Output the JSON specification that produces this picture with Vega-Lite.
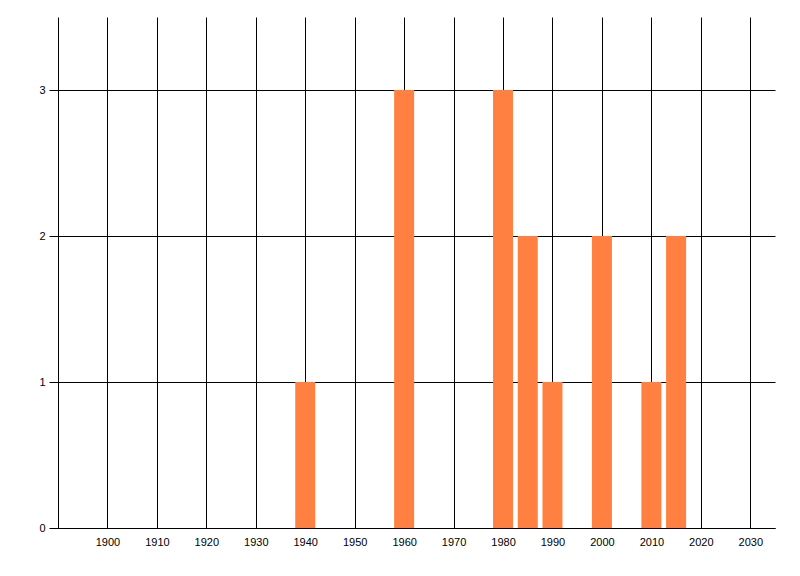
{
  "$schema": "https://vega.github.io/schema/vega-lite/v6.json",
  "autosize": {"type": "none"},
  "padding": {"left": 58, "top": 17, "right": 25, "bottom": 48},
  "width": 717,
  "height": 511,
  "background": "white",
  "config": {
    "view": {"stroke": null},
    "axis": {
      "labelFont": "Liberation Sans",
      "labelFontSize": 11,
      "labelColor": "black",
      "gridColor": "black",
      "gridOpacity": 1,
      "gridWidth": 1,
      "domainColor": "black",
      "domainWidth": 1,
      "tickColor": "black",
      "tickWidth": 1
    }
  },
  "data": {
    "values": [
      {"year": 1940, "count": 1},
      {"year": 1960, "count": 3},
      {"year": 1980, "count": 3},
      {"year": 1985, "count": 2},
      {"year": 1990, "count": 1},
      {"year": 2000, "count": 2},
      {"year": 2010, "count": 1},
      {"year": 2015, "count": 2}
    ]
  },
  "mark": {"type": "bar", "width": 20, "color": "#FF8040"},
  "encoding": {
    "x": {
      "field": "year",
      "type": "quantitative",
      "scale": {"domain": [1890, 2035], "nice": false, "zero": false, "padding": 0},
      "axis": {
        "title": null,
        "values": [1900, 1910, 1920, 1930, 1940, 1950, 1960, 1970, 1980, 1990, 2000, 2010, 2020, 2030],
        "format": "d",
        "grid": true,
        "ticks": false,
        "labelPadding": 8,
        "labelFlush": false
      }
    },
    "y": {
      "field": "count",
      "type": "quantitative",
      "scale": {"domain": [0, 3.5], "nice": false},
      "axis": {
        "title": null,
        "values": [0, 1, 2, 3],
        "grid": true,
        "ticks": true,
        "tickSize": 9,
        "labelPadding": 4,
        "labelFlush": false
      }
    }
  }
}
